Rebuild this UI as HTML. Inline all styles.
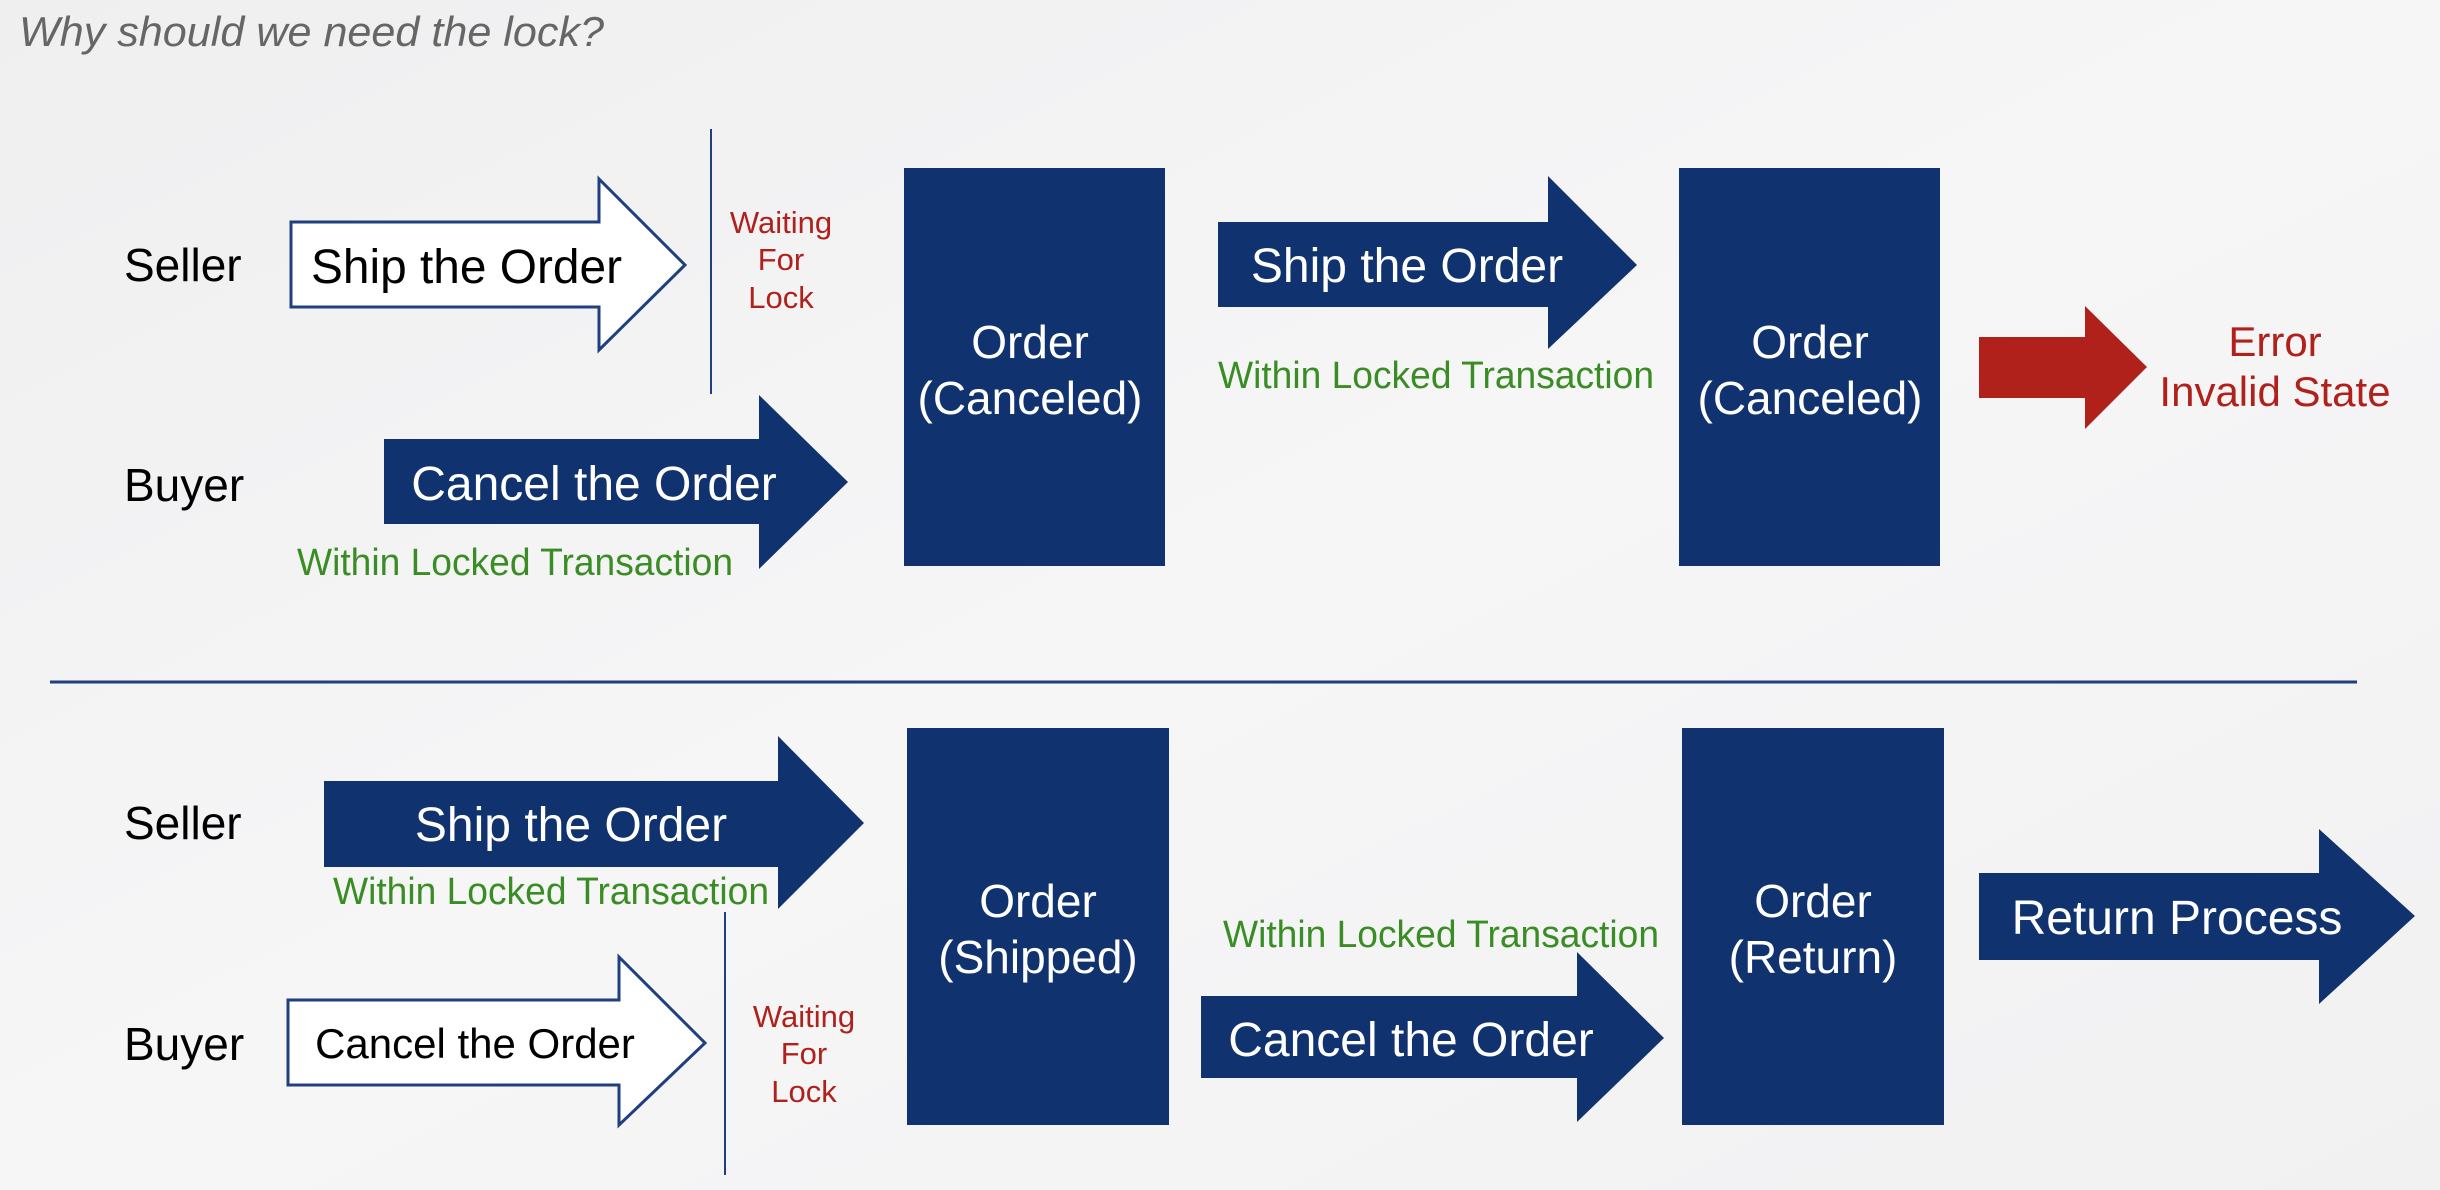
<!DOCTYPE html>
<html><head><meta charset="utf-8"><style>
html,body{margin:0;padding:0;width:2440px;height:1190px;overflow:hidden;background:#f3f3f4;}
svg{display:block;}
text{font-family:"Liberation Sans",Arial,sans-serif;}
</style></head><body>
<svg width="2440" height="1190" viewBox="0 0 2440 1190" xmlns="http://www.w3.org/2000/svg">
<defs>
<linearGradient id="bg" x1="0" y1="0" x2="1" y2="1">
<stop offset="0" stop-color="#efeff0"/><stop offset="0.5" stop-color="#f6f6f7"/><stop offset="1" stop-color="#f1f1f2"/>
</linearGradient>
</defs>
<rect width="2440" height="1190" fill="url(#bg)"/>

<text x="19" y="46" font-size="42" font-style="italic" fill="#666" textLength="585" lengthAdjust="spacingAndGlyphs">Why should we need the lock?</text>

<!-- TOP -->
<text x="124" y="281" font-size="46" fill="#000">Seller</text>
<polygon points="291,222 599,222 599,179 685,265 599,350 599,307 291,307" fill="#fff" stroke="#1f3f7f" stroke-width="3"/>
<text x="311" y="283" font-size="48" fill="#000" textLength="311" lengthAdjust="spacingAndGlyphs">Ship the Order</text>
<line x1="711" y1="129" x2="711" y2="394" stroke="#1f3f7f" stroke-width="2"/>
<g font-size="31" fill="#b0211c" text-anchor="middle">
<text x="781" y="233">Waiting</text><text x="781" y="270">For</text><text x="781" y="308">Lock</text>
</g>
<text x="124" y="501" font-size="46" fill="#000">Buyer</text>
<polygon points="384,439 759,439 759,395 848,482 759,569 759,524 384,524" fill="#103370"/>
<text x="594" y="500" font-size="48" fill="#fff" text-anchor="middle">Cancel the Order</text>
<text x="297" y="575" font-size="38" fill="#3a8d24" textLength="436" lengthAdjust="spacingAndGlyphs">Within Locked Transaction</text>

<rect x="904" y="168" width="261" height="398" fill="#103370"/>
<text x="1030" y="358" font-size="46" fill="#fff" text-anchor="middle">Order</text>
<text x="1030" y="414" font-size="46" fill="#fff" text-anchor="middle">(Canceled)</text>

<polygon points="1218,222 1548,222 1548,176 1637,265 1548,349 1548,307 1218,307" fill="#103370"/>
<text x="1407" y="282" font-size="48" fill="#fff" text-anchor="middle">Ship the Order</text>
<text x="1218" y="388" font-size="38" fill="#3a8d24" textLength="436" lengthAdjust="spacingAndGlyphs">Within Locked Transaction</text>

<rect x="1679" y="168" width="261" height="398" fill="#103370"/>
<text x="1810" y="358" font-size="46" fill="#fff" text-anchor="middle">Order</text>
<text x="1810" y="414" font-size="46" fill="#fff" text-anchor="middle">(Canceled)</text>

<polygon points="1979,337 2085,337 2085,306 2147,367 2085,429 2085,398 1979,398" fill="#b0211c"/>
<text x="2275" y="356" font-size="42" fill="#b0211c" text-anchor="middle">Error</text>
<text x="2275" y="406" font-size="42" fill="#b0211c" text-anchor="middle">Invalid State</text>

<line x1="50" y1="682" x2="2357" y2="682" stroke="#1f3f7f" stroke-width="3"/>

<!-- BOTTOM -->
<text x="124" y="839" font-size="46" fill="#000">Seller</text>
<polygon points="324,781 778,781 778,736 864,823 778,909 778,867 324,867" fill="#103370"/>
<text x="571" y="841" font-size="48" fill="#fff" text-anchor="middle">Ship the Order</text>
<text x="333" y="904" font-size="38" fill="#3a8d24" textLength="436" lengthAdjust="spacingAndGlyphs">Within Locked Transaction</text>
<line x1="725" y1="912" x2="725" y2="1175" stroke="#1f3f7f" stroke-width="2"/>
<g font-size="31" fill="#b0211c" text-anchor="middle">
<text x="804" y="1027">Waiting</text><text x="804" y="1064">For</text><text x="804" y="1102">Lock</text>
</g>
<text x="124" y="1060" font-size="46" fill="#000">Buyer</text>
<polygon points="288,1000 619,1000 619,957 705,1043 619,1125 619,1085 288,1085" fill="#fff" stroke="#1f3f7f" stroke-width="3"/>
<text x="475" y="1058" font-size="42" fill="#000" text-anchor="middle">Cancel the Order</text>

<rect x="907" y="728" width="262" height="397" fill="#103370"/>
<text x="1038" y="917" font-size="46" fill="#fff" text-anchor="middle">Order</text>
<text x="1038" y="973" font-size="46" fill="#fff" text-anchor="middle">(Shipped)</text>

<text x="1223" y="947" font-size="38" fill="#3a8d24" textLength="436" lengthAdjust="spacingAndGlyphs">Within Locked Transaction</text>
<polygon points="1201,996 1577,996 1577,952 1664,1038 1577,1122 1577,1078 1201,1078" fill="#103370"/>
<text x="1411" y="1056" font-size="48" fill="#fff" text-anchor="middle">Cancel the Order</text>

<rect x="1682" y="728" width="262" height="397" fill="#103370"/>
<text x="1813" y="917" font-size="46" fill="#fff" text-anchor="middle">Order</text>
<text x="1813" y="973" font-size="46" fill="#fff" text-anchor="middle">(Return)</text>

<polygon points="1979,873 2319,873 2319,829 2415,916 2319,1004 2319,960 1979,960" fill="#103370"/>
<text x="2177" y="934" font-size="48" fill="#fff" text-anchor="middle">Return Process</text>
</svg>
</body></html>
